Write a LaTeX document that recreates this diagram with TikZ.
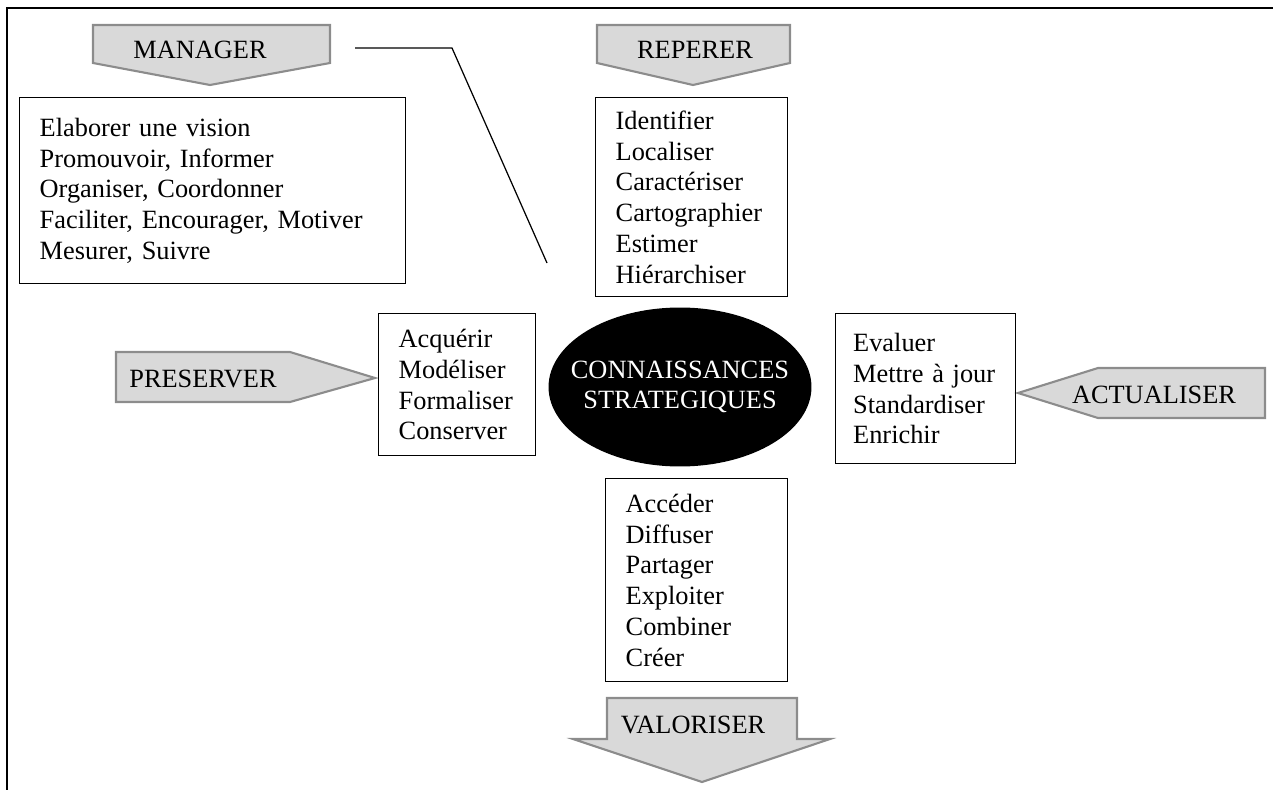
\documentclass[tikz,border=0pt]{standalone}
\usepackage{fontspec}
\setmainfont{Liberation Serif}
\usetikzlibrary{shapes.geometric}
\hyphenpenalty=10000

\begin{document}
\begin{tikzpicture}[x=0.02cm, y=-0.02cm,
  fleche/.style={fill=black!15, draw=black!45, line width=1.2pt, line join=miter},
  etiquette/.style={font=\fontsize{15}{17.5}\selectfont},
  liste/.style={draw, line width=0.8pt, anchor=north west, align=left, inner xsep=0.4cm, etiquette}]
\useasboundingbox (0,0) rectangle (1273,790);

% cadre
\draw[line width=1.1pt] (1273,8) -- (7,8) -- (7,790);

% Manager
\draw[fleche] (93,25) -- (330,25) -- (330,63) -- (210,85) -- (93,63) -- cycle;
\node[etiquette] (manager) at (200,50) {MANAGER};
\node[liste, text width=6.92cm, minimum height=3.72cm] (gerer) at (19,97) {Elaborer une vision\\Promouvoir, Informer\\Organiser, Coordonner\\Faciliter, Encourager, Motiver\\Mesurer, Suivre};

% trait vers le centre
\coordinate (t0) at (355,48);
\coordinate (t1) at (452,48);
\coordinate (t2) at (547,263);
\draw[line width=0.7pt] (t0) -- (t1) -- (t2);

% Reperer
\draw[fleche] (597,25) -- (790,25) -- (790,63) -- (693,85) -- (597,63) -- cycle;
\node[etiquette] (reperer) at (695,50) {REPERER};
\node[liste, text width=3.04cm, minimum height=3.98cm] (rep) at (595,97) {Identifier\\Localiser\\Caractériser\\Cartographier\\Estimer\\Hiérarchiser};

% centre
\node[ellipse, fill=black, inner sep=0pt, minimum width=5.26cm, minimum height=3.18cm] (coeur) at (680,387) {};
\node[etiquette, text=white, align=center] (titre) at (coeur) {CONNAISSANCES\\STRATEGIQUES};

% Preserver
\draw[fleche] (116,352) -- (290,352) -- (375,378) -- (290,402) -- (116,402) -- cycle;
\node[etiquette] (preserver) at (203,379) {PRESERVER};
\node[liste, text width=2.34cm, minimum height=2.84cm] (pres) at (378,313) {Acquérir\\Modéliser\\Formaliser\\Conserver};

% Actualiser
\draw[fleche] (1265,368) -- (1098,368) -- (1018,393) -- (1098,418) -- (1265,418) -- cycle;
\node[etiquette] (actualiser) at (1154,395) {ACTUALISER};
\node[liste, inner xsep=0.35cm, text width=2.9cm, minimum height=3.0cm] (act) at (835,313) {Evaluer\\Mettre à jour\\Standardiser\\Enrichir};

% Valoriser
\node[liste, text width=2.84cm, minimum height=4.06cm] (val) at (605,478) {Accéder\\Diffuser\\Partager\\Exploiter\\Combiner\\Créer};
\draw[fleche] (607,698) -- (797,698) -- (797,739) -- (830,739) -- (702,782) -- (573,739) -- (607,739) -- cycle;
\node[etiquette] (valoriser) at (693,725) {VALORISER};
\end{tikzpicture}
\end{document}
